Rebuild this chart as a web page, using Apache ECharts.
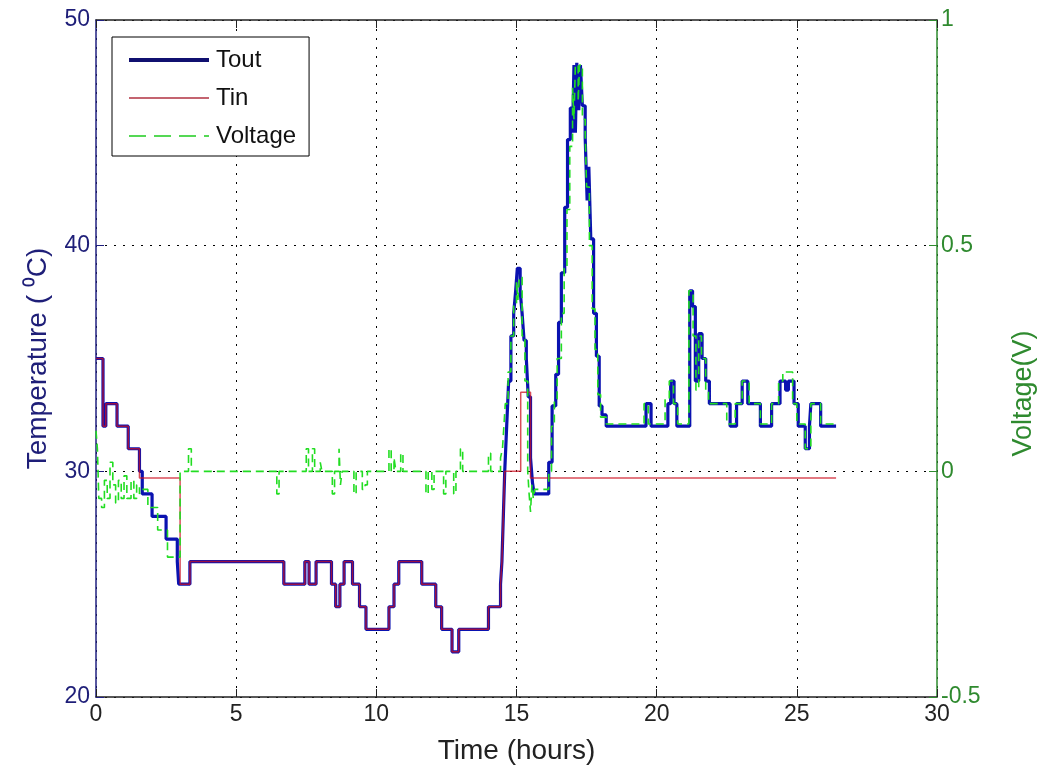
<!DOCTYPE html>
<html>
<head>
<meta charset="utf-8">
<title>Tout / Tin / Voltage</title>
<script src="https://cdn.jsdelivr.net/npm/echarts@6/dist/echarts.min.js"></script>
<style>
  html, body { margin: 0; padding: 0; background: #ffffff; }
  #chart { width: 1045px; height: 776px; }
</style>
</head>
<body>
<div id="chart"></div>
<script>
// Outdoor temperature (Tout), hold values: [time in hours, °C]
const toutTime = [0, 0.25, 0.35, 0.75, 1.15, 1.55, 1.65, 2.0, 2.5, 2.9, 2.95, 3.35, 6.7, 7.45, 7.6, 7.85, 8.4, 8.55, 8.7, 8.85, 9.15, 9.4, 9.63, 10.45, 10.63, 10.8, 11.62, 12.12, 12.33, 12.7, 12.94, 14.0, 14.43, 14.48, 14.53, 14.58, 14.65, 14.72, 14.8, 14.9, 14.97, 15.03, 15.13, 15.2, 15.27, 15.35, 15.42, 15.5, 15.57, 15.63, 16.15, 16.27, 16.4, 16.5, 16.6, 16.72, 16.82, 16.92, 17.0, 17.05, 17.1, 17.15, 17.22, 17.28, 17.35, 17.45, 17.52, 17.58, 17.65, 17.75, 17.85, 17.95, 18.05, 18.2, 19.62, 19.8, 20.4, 20.5, 20.62, 20.72, 21.18, 21.28, 21.38, 21.5, 21.62, 21.75, 21.88, 22.62, 22.85, 23.05, 23.25, 23.7, 24.1, 24.4, 24.6, 24.7, 24.9, 25.05, 25.3, 25.45, 25.5, 25.85, 26.4];
const toutTemp = [35, 32, 33, 32, 31, 30, 29, 28, 27, 26, 25, 26, 25, 26, 25, 26, 25, 24, 25, 26, 25, 24, 23, 24, 25, 26, 25, 24, 23, 22, 23, 24, 25, 26, 28, 30, 32, 34, 36, 37, 38, 39, 38, 37, 35.8, 35, 33.3, 30.6, 29.5, 29, 30.4, 32.9, 34.3, 36.6, 38.8, 41.7, 44.7, 46.1, 45, 48, 45, 48.1, 46, 48, 46.2, 44.8, 42, 43.5, 40.3, 37, 35.1, 32.9, 32.5, 32, 33, 32, 33, 34, 33, 32, 38, 37.3, 34, 36.1, 35, 34, 33, 32, 33, 34, 33, 32, 33, 34, 33.6, 34, 33, 32, 31, 32, 33, 32, 32];

// Indoor temperature (Tin), hold values: [time in hours, °C]
const tinTime = [0, 0.25, 0.35, 0.75, 1.15, 1.55, 3.0, 3.35, 6.7, 7.45, 7.6, 7.85, 8.4, 8.55, 8.7, 8.85, 9.15, 9.4, 9.63, 10.45, 10.63, 10.8, 11.62, 12.12, 12.33, 12.7, 12.94, 14.0, 14.43, 14.48, 14.53, 14.58, 15.15, 15.5, 26.4];
const tinTemp = [35, 32, 33, 32, 31, 29.7, 25, 26, 25, 26, 25, 26, 25, 24, 25, 26, 25, 24, 23, 24, 25, 26, 25, 24, 23, 22, 23, 24, 25, 26, 28, 30, 33.5, 29.7, 29.7];

// Voltage, hold values: [time in hours, V]
const voltTime = [0, 0.05, 0.1, 0.2, 0.3, 0.4, 0.5, 0.6, 0.7, 0.8, 0.9, 1.0, 1.1, 1.25, 1.35, 1.45, 1.55, 1.6, 1.85, 2.2, 2.55, 3.0, 3.3, 3.4, 6.45, 6.53, 7.5, 7.58, 7.72, 7.8, 8.0, 8.06, 8.43, 8.51, 8.67, 8.72, 8.78, 9.2, 9.28, 9.5, 9.6, 9.68, 10.45, 10.53, 10.63, 10.7, 10.87, 10.95, 11.77, 11.85, 11.98, 12.06, 12.4, 12.48, 12.76, 12.84, 13.0, 13.08, 14.0, 14.08, 14.43, 14.5, 14.55, 14.6, 14.7, 14.8, 14.9, 15.0, 15.05, 15.1, 15.2, 15.3, 15.4, 15.45, 15.5, 15.55, 15.6, 15.65, 16.15, 16.25, 16.35, 16.45, 16.6, 16.7, 16.8, 16.9, 17.0, 17.05, 17.1, 17.2, 17.25, 17.35, 17.45, 17.5, 17.6, 17.7, 17.8, 17.9, 18.0, 18.2, 19.55, 19.7, 20.3, 20.45, 20.6, 20.75, 21.15, 21.3, 21.4, 21.5, 21.6, 21.75, 21.85, 22.5, 22.8, 23.05, 23.3, 23.7, 24.1, 24.35, 24.5, 24.85, 25.0, 25.3, 25.5, 25.85, 26.4];
const voltVal = [0.09, 0.05, -0.06, -0.08, -0.02, -0.06, 0.02, -0.03, -0.07, -0.02, -0.06, -0.01, -0.06, -0.02, -0.06, -0.03, -0.05, -0.04, -0.08, -0.13, -0.19, 0, 0.05, 0, -0.05, 0, 0.05, 0, 0.05, 0, 0.02, 0, -0.05, 0, 0.05, -0.03, 0, -0.05, 0, -0.04, -0.03, 0, 0.05, 0, 0.03, 0, 0.04, 0, -0.05, 0, -0.04, 0, -0.05, 0, -0.05, 0, 0.05, 0, 0.04, 0, 0.03, 0.05, 0.1, 0.15, 0.22, 0.3, 0.37, 0.42, 0.38, 0.43, 0.3, 0.2, 0, -0.05, -0.09, -0.03, -0.06, -0.04, 0, 0.1, 0.16, 0.25, 0.35, 0.45, 0.58, 0.72, 0.85, 0.78, 0.9, 0.82, 0.9, 0.78, 0.75, 0.63, 0.5, 0.36, 0.27, 0.17, 0.12, 0.105, 0.15, 0.105, 0.16, 0.2, 0.15, 0.105, 0.4, 0.3, 0.18, 0.3, 0.25, 0.18, 0.15, 0.105, 0.15, 0.2, 0.15, 0.105, 0.15, 0.2, 0.22, 0.15, 0.105, 0.05, 0.15, 0.105, 0.105];

const pairs = (xs, ys) => xs.map((x, i) => [x, ys[i]]);

const FONT = '"Liberation Sans", Arial, sans-serif';
const NAVY = '#1e1e78';
const GREEN_AXIS = '#2f8a2f';
const dotted = { type: [2, 7], color: '#000', width: 1 };
// legend samples are plain line segments, no marker in the middle
const noMarker = { opacity: 0, borderWidth: 0 };

const chart = echarts.init(document.getElementById('chart'), null, { renderer: 'canvas' });

chart.setOption({
  animation: false,
  backgroundColor: '#ffffff',
  textStyle: { fontFamily: FONT },
  grid: { left: 96, right: 105, top: 20, bottom: 79, containLabel: false },
  legend: {
    orient: 'vertical',
    left: 112,
    top: 37,
    padding: [9, 13, 6, 15],
    itemGap: 10,
    itemWidth: 80,
    itemHeight: 14,
    backgroundColor: '#ffffff',
    borderColor: '#000000',
    borderWidth: 1,
    borderRadius: 0,
    itemStyle: noMarker,
    textStyle: { fontFamily: FONT, fontSize: 24, color: '#111', lineHeight: 28, padding: [0, 0, 0, 2] },
    data: [
      { name: 'Tout', itemStyle: noMarker, lineStyle: { color: '#101070', width: 4, opacity: 1 } },
      { name: 'Tin', itemStyle: noMarker, lineStyle: { color: '#b03040', width: 1.5, opacity: 1 } },
      { name: 'Voltage', itemStyle: noMarker, lineStyle: { color: '#55d855', width: 2, type: [17, 8], opacity: 1 } }
    ]
  },
  xAxis: [
    {
      type: 'value', position: 'bottom', min: 0, max: 30, interval: 5,
      name: 'Time (hours)', nameLocation: 'middle', nameGap: 40,
      nameTextStyle: { fontFamily: FONT, fontSize: 28, color: '#222' },
      axisLine: { onZero: false, lineStyle: { color: '#222', width: 1.5 } },
      axisTick: { inside: true, length: 8, lineStyle: { color: '#222' } },
      axisLabel: { fontFamily: FONT, fontSize: 23, color: '#222', margin: 6 },
      splitLine: { show: true, lineStyle: dotted }
    },
    {
      type: 'value', position: 'top', min: 0, max: 30, interval: 5,
      axisLine: { onZero: false, lineStyle: { color: '#222', width: 1.5 } },
      axisTick: { inside: true, length: 8, lineStyle: { color: '#222' } },
      axisLabel: { show: false },
      splitLine: { show: false }
    }
  ],
  yAxis: [
    {
      type: 'value', position: 'left', min: 20, max: 50, interval: 10,
      name: 'Temperature ( \u2070C)', nameLocation: 'middle', nameGap: 44, nameRotate: 90,
      nameTextStyle: { fontFamily: FONT, fontSize: 28, color: NAVY },
      axisLine: { onZero: false, lineStyle: { color: '#202080', width: 1.5 } },
      axisTick: { inside: true, length: 8, lineStyle: { color: '#202080' } },
      axisLabel: { fontFamily: FONT, fontSize: 23, color: NAVY, margin: 6 },
      splitLine: { show: true, lineStyle: dotted }
    },
    {
      type: 'value', position: 'right', min: -0.5, max: 1, interval: 0.5,
      name: 'Voltage(V)', nameLocation: 'middle', nameGap: 73, nameRotate: 90,
      nameTextStyle: { fontFamily: FONT, fontSize: 27, color: GREEN_AXIS, padding: [0, 70, 0, 0] },
      axisLine: { onZero: false, lineStyle: { color: '#2e8b2e', width: 1.5 } },
      axisTick: { inside: true, length: 8, lineStyle: { color: '#2e8b2e' } },
      axisLabel: { fontFamily: FONT, fontSize: 23, color: GREEN_AXIS, margin: 4 },
      splitLine: { show: false }
    }
  ],
  series: [
    {
      name: 'Tout', type: 'line', xAxisIndex: 0, yAxisIndex: 0,
      step: 'end', symbol: 'none', z: 2,
      lineStyle: { color: '#0a12b0', width: 3.2 },
      itemStyle: { color: '#0a12b0' },
      data: pairs(toutTime, toutTemp)
    },
    {
      name: 'Tin', type: 'line', xAxisIndex: 0, yAxisIndex: 0,
      step: 'end', symbol: 'none', z: 3,
      lineStyle: { color: '#cc1020', width: 1.5, opacity: 0.75 },
      itemStyle: { color: '#cc1020' },
      data: pairs(tinTime, tinTemp)
    },
    {
      name: 'Voltage', type: 'line', xAxisIndex: 0, yAxisIndex: 1,
      step: 'end', symbol: 'none', z: 4,
      lineStyle: { color: '#22dd22', width: 1.6, type: [8, 5] },
      itemStyle: { color: '#22dd22' },
      data: pairs(voltTime, voltVal)
    }
  ]
});
</script>
</body>
</html>
